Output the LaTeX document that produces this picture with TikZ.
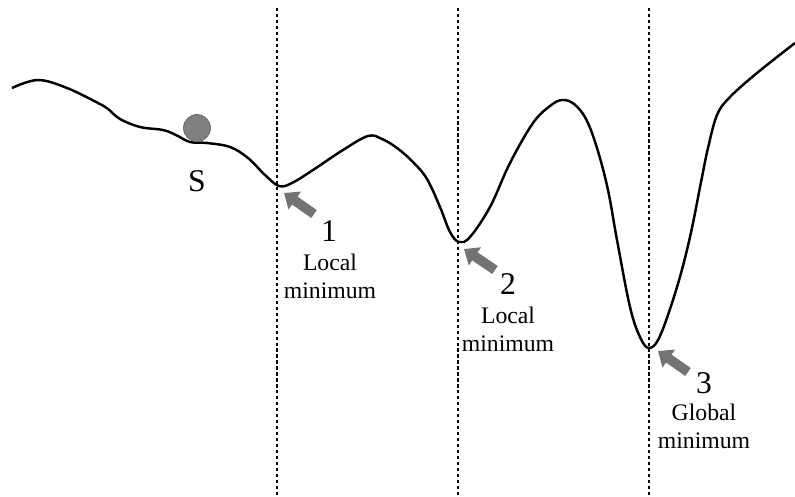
\documentclass[tikz,border=0pt]{standalone}
\usepackage{fontspec}
\setmainfont{Liberation Serif}
\usetikzlibrary{arrows.meta}
\definecolor{ballgray}{RGB}{128,128,128}
\definecolor{arrgray}{RGB}{115,115,115}
\begin{document}
\begin{tikzpicture}[x=0.02cm,y=-0.02cm,line join=round,
	numlbl/.style={font=\fontsize{18}{20}\selectfont,inner sep=0pt},
	txtlbl/.style={font=\fontsize{13.5}{16}\selectfont,align=center,inner sep=0pt,anchor=north},
	blockarr/.style={arrgray,line width=5.5pt,-{Triangle[length=7.5pt,width=12pt]}},
	guide/.style={dash pattern=on 1.8pt off 1.6pt,line width=0.85pt}]
	\useasboundingbox (0,0) rectangle (795,497);
	\draw[guide] (277,8) -- (277,497);
	\draw[guide] (458,8) -- (458,497);
	\draw[guide] (649,8) -- (649,497);
	% landscape
	\draw[line width=1.4pt,smooth,tension=0.6] plot coordinates {(12,88) (38,80) (67,88) (98,103) (108,109) (120,119) (140,127) (163,130) (176,135) (190,142) (207,143) (230,147) (248,158) (265,175) (279,186) (292,183) (313,170) (343,150) (368,136) (382,139) (397,148) (413,162) (427,179) (440,207) (450,232) (459,242) (470,237) (490,207) (510,163) (533,123) (550,106) (562,100) (574,104) (586,119) (597,148) (608,190) (617,240) (630,307) (640,337) (649,348) (660,336) (677,287) (690,237) (702,177) (708,148) (717,115) (730,97) (757,73) (795,43)};
	% ball
	\node[circle,fill=ballgray,draw=ballgray!80!black,line width=0.4pt,minimum size=27*0.02cm,inner sep=0pt] (ball) at (197,128) {};
	\node[numlbl] (s) at (197,181) {S};
	% labels
	\node[numlbl] (n1) at (329,231) {1};
	\node[txtlbl] (t1) at (330,254) {Local\\minimum};
	\node[numlbl] (n2) at (508,284) {2};
	\node[txtlbl] (t2) at (508,307) {Local\\minimum};
	\node[numlbl] (n3) at (704,383) {3};
	\node[txtlbl] (t3) at (704,404) {Global\\minimum};
	% arrows
	\coordinate (a1) at (314,214);
	\coordinate (p1) at (284,193);
	\coordinate (a2) at (495,270);
	\coordinate (p2) at (464,249);
	\coordinate (a3) at (688,372);
	\coordinate (p3) at (658,351);
	\draw[blockarr] (a1) -- (p1);
	\draw[blockarr] (a2) -- (p2);
	\draw[blockarr] (a3) -- (p3);
\end{tikzpicture}
\end{document}
